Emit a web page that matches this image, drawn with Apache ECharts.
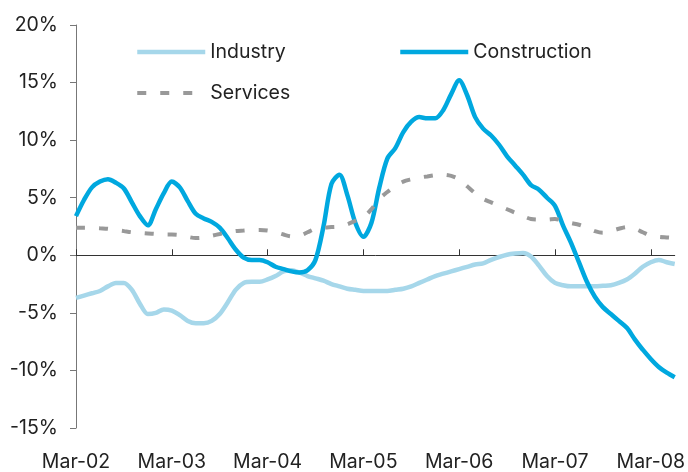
<!DOCTYPE html>
<html>
<head>
<meta charset="utf-8">
<style>
  html, body { margin: 0; padding: 0; background: #fff; }
  #chart { width: 688px; height: 472px; }
</style>
<script src="https://cdn.jsdelivr.net/npm/echarts@6/dist/echarts.min.js"></script>
</head>
<body>
<div id="chart"></div>
<script>
// monthly, Mar-02 .. Jun-08
var months = [
    "Mar-02", "Apr-02", "May-02", "Jun-02", "Jul-02", "Aug-02", "Sep-02", "Oct-02", "Nov-02", "Dec-02", "Jan-03", "Feb-03",
    "Mar-03", "Apr-03", "May-03", "Jun-03", "Jul-03", "Aug-03", "Sep-03", "Oct-03", "Nov-03", "Dec-03", "Jan-04", "Feb-04",
    "Mar-04", "Apr-04", "May-04", "Jun-04", "Jul-04", "Aug-04", "Sep-04", "Oct-04", "Nov-04", "Dec-04", "Jan-05", "Feb-05",
    "Mar-05", "Apr-05", "May-05", "Jun-05", "Jul-05", "Aug-05", "Sep-05", "Oct-05", "Nov-05", "Dec-05", "Jan-06", "Feb-06",
    "Mar-06", "Apr-06", "May-06", "Jun-06", "Jul-06", "Aug-06", "Sep-06", "Oct-06", "Nov-06", "Dec-06", "Jan-07", "Feb-07",
    "Mar-07", "Apr-07", "May-07", "Jun-07", "Jul-07", "Aug-07", "Sep-07", "Oct-07", "Nov-07", "Dec-07", "Jan-08", "Feb-08",
    "Mar-08", "Apr-08", "May-08", "Jun-08"
];

var industry = [
    -3.7, -3.5, -3.3, -3.1, -2.7, -2.4, -2.4, -3.0, -4.2, -5.1, -5.0, -4.7,
    -4.8, -5.2, -5.7, -5.9, -5.9, -5.7, -5.1, -4.1, -3.0, -2.4, -2.3, -2.3,
    -2.1, -1.8, -1.4, -1.3, -1.5, -1.8, -2.0, -2.2, -2.5, -2.7, -2.9, -3.0,
    -3.1, -3.1, -3.1, -3.1, -3.0, -2.9, -2.7, -2.4, -2.1, -1.8, -1.6, -1.4,
    -1.2, -1.0, -0.8, -0.7, -0.4, -0.15, 0.05, 0.15, 0.2, -0.1, -0.9, -1.8,
    -2.4, -2.6, -2.7, -2.7, -2.7, -2.7, -2.65, -2.6, -2.4, -2.1, -1.6, -1.0,
    -0.6, -0.4, -0.6, -0.75
];

var construction = [
    3.4, 4.8, 5.9, 6.4, 6.6, 6.3, 5.8, 4.6, 3.4, 2.6, 4.0, 5.4,
    6.4, 5.9, 4.7, 3.6, 3.2, 2.9, 2.4, 1.5, 0.5, -0.2, -0.4, -0.4,
    -0.6, -1.0, -1.2, -1.4, -1.5, -1.3, -0.4, 2.5, 6.2, 7.0, 5.2, 2.8,
    1.6, 2.8, 5.9, 8.4, 9.3, 10.7, 11.6, 12.0, 11.9, 11.9, 12.6, 14.0,
    15.2, 13.9, 12.0, 11.0, 10.4, 9.6, 8.6, 7.8, 7.0, 6.1, 5.7, 5.0,
    4.3, 2.6, 1.1, -0.6, -2.3, -3.6, -4.5, -5.1, -5.7, -6.3, -7.3, -8.2,
    -9.0, -9.7, -10.2, -10.6
];

var services = [
    2.4, 2.4, 2.4, 2.35, 2.3, 2.2, 2.1, 2.0, 1.95, 1.9, 1.85, 1.8,
    1.8, 1.75, 1.6, 1.5, 1.55, 1.7, 1.85, 2.0, 2.1, 2.15, 2.2, 2.2,
    2.15, 2.0, 1.8, 1.65, 1.7, 2.0, 2.3, 2.4, 2.45, 2.5, 2.7, 3.0,
    3.3, 4.0, 4.9, 5.5, 6.0, 6.4, 6.6, 6.75, 6.85, 6.95, 7.0, 6.9,
    6.6, 6.0, 5.4, 4.9, 4.6, 4.3, 4.0, 3.7, 3.4, 3.15, 3.1, 3.1,
    3.15, 3.0, 2.8, 2.65, 2.4, 2.1, 1.95, 2.1, 2.3, 2.45, 2.3, 2.0,
    1.7, 1.6, 1.55, 1.5
];

var yTicks = [-15, -10, -5, 0, 5, 10, 15, 20];

(function() {
    var myChart = echarts.init(document.getElementById("chart"));
    var font = "Inter, 'Liberation Sans', Arial, sans-serif";
    var isMarch = function(index) { return index % 12 === 0; };
    var legendBase = {
        padding: 0,
        itemWidth: 68,
        itemHeight: 14,
        itemStyle: { opacity: 0, borderWidth: 0 },
        lineStyle: { width: "inherit" },
        textStyle: { fontSize: 19.5, color: "#222", fontFamily: font }
    };

    var option = {
        animation: false,
        textStyle: { fontFamily: font },
        grid: { left: 76, right: 12, top: 25, bottom: 39.5 },
        legend: [
            Object.assign({}, legendBase, {
                data: ["Industry", "Services"],
                orient: "vertical",
                left: 135,
                top: 42,
                itemGap: 21
            }),
            Object.assign({}, legendBase, {
                data: ["Construction"],
                left: 398,
                top: 42
            })
        ],
        xAxis: [{
            type: "category",
            data: months,
            boundaryGap: false,
            position: "bottom",
            axisLine: { show: false, onZero: false },
            axisTick: { show: false },
            axisLabel: {
                interval: 11,
                margin: 24,
                fontSize: 19.5,
                color: "#222",
                fontFamily: font
            }
        }, {
            type: "category",
            data: months,
            boundaryGap: false,
            axisLine: { show: true, onZero: true, lineStyle: { color: "#333", width: 1 } },
            axisTick: { show: true, interval: isMarch, length: 6, lineStyle: { color: "#333" } },
            axisLabel: { show: false }
        }],
        yAxis: {
            type: "value",
            min: yTicks[0],
            max: yTicks[yTicks.length - 1],
            interval: 5,
            splitLine: { show: false },
            axisLine: { show: true, lineStyle: { color: "#777", width: 1 } },
            axisTick: { show: true, length: 6, lineStyle: { color: "#777" } },
            axisLabel: {
                formatter: "{value}%",
                margin: 18,
                fontSize: 19.5,
                color: "#222",
                fontFamily: font
            }
        },
        series: [{
            name: "Industry",
            type: "line",
            data: industry,
            symbol: "none",
            smooth: 0.3,
            lineStyle: { color: "#a6d7ea", width: 4.5 },
            itemStyle: { color: "#a6d7ea" }
        }, {
            name: "Construction",
            type: "line",
            data: construction,
            symbol: "none",
            smooth: 0.3,
            lineStyle: { color: "#00a8df", width: 4.5 },
            itemStyle: { color: "#00a8df" }
        }, {
            name: "Services",
            type: "line",
            data: services,
            symbol: "none",
            smooth: 0.3,
            lineStyle: { color: "#999999", width: 4, type: [9, 14] },
            itemStyle: { color: "#999999" }
        }]
    };
    myChart.setOption(option);
}());
</script>
</body>
</html>
